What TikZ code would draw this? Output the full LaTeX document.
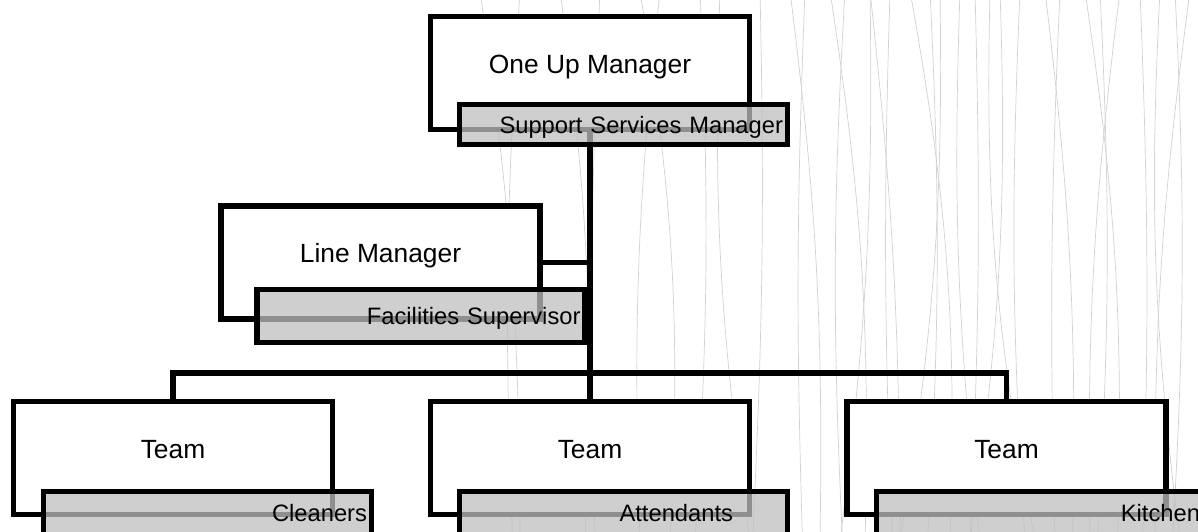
\documentclass[tikz,border=0pt]{standalone}
\usepackage{fontspec}
\setmainfont{Liberation Sans}
\pgfdeclarelayer{threads}
\pgfdeclarelayer{background}
\pgfsetlayers{threads,background,main}
\tikzset{
    post/.style={draw,line width=3.2pt,fill=white,minimum width=6.38cm,minimum height=2.26cm,},
    title/.style={font=\fontsize{15}{18}\selectfont,text height=10.7pt,text depth=0pt,inner sep=0pt,},
    tag/.style={draw,line width=3.2pt,fill=black!25,fill opacity=0.75,text opacity=1,
        inner xsep=0.09cm,inner ysep=0pt,text width=6.38cm,align=right,
        font=\fontsize{13.5}{16}\selectfont,text height=9.7pt,text depth=0pt,},
    link/.style={line width=3.2pt,},
    thread/.style={black!18,line width=0.4pt,},
}

\begin{document}
\begin{tikzpicture}
                \useasboundingbox (0,0) rectangle (23.96,10.62);

                % faint threads behind the chart
                \begin{pgfonlayer}{threads}
                \foreach \a/\b/\c in {9.6/10.4/4, 10.4/10.25/-3, 11.2/11.7/5, 12/11.9/-2, 12.8/13.4/6,
                        13.2/12.8/-4, 14/13.9/3, 14.4/15/-5, 15.2/15.05/2, 15.8/16.4/4, 16.1/16.05/-2,
                        16.6/17.3/5, 16.9/16.85/-3, 17.4/16.8/4, 17.8/17.85/-2, 18.2/19/6, 18.6/18.55/3,
                        19.2/19.6/-4, 19.5/19.4/2, 20/19.4/5, 20.4/20.5/-3, 20.9/21.45/4, 21.2/21.1/-2,
                        21.7/22.35/5, 22/21.95/3, 22.4/21.8/-4, 22.8/22.85/2, 23.2/23.6/-5, 23.5/23.45/3,
                        23.8/23.1/-4, 18.8/18/5, 19.8/20.7/-6, 17.4/18/3}
                    \draw[thread] (\a,10.8) to[bend left=\c] (\b,-0.2);
                \end{pgfonlayer}

                \node[post] (oneup) at (11.8, 9.16) {};
                \node[title] at ([yshift=0.18cm]oneup.center) {One Up Manager};
                \node[tag,minimum height=0.8cm] (ssm) at (12.47, 8.13) {Support Services Manager};

                \node[post] (linemgr) at (7.61, 5.37) {};
                \node[title] at ([yshift=0.18cm]linemgr.center) {Line Manager};
                \node[tag,minimum height=1.06cm] (facil) at (8.42, 4.30) {Facilities Supervisor};

                \node[post] (cleanteam) at (3.46, 1.46) {};
                \node[title] at ([yshift=0.18cm]cleanteam.center) {Team};
                \node[tag,minimum height=0.86cm] (cleaners) at (4.15, 0.36) {Cleaners};

                \node[post] (attteam) at (11.8, 1.46) {};
                \node[title] at ([yshift=0.18cm]attteam.center) {Team};
                \node[tag,minimum height=0.86cm,inner xsep=1.09cm,text width=4.38cm] (attend) at (12.47, 0.36) {Attendants};

                \node[post] (kitchteam) at (20.13, 1.46) {};
                \node[title] at ([yshift=0.18cm]kitchteam.center) {Team};
                \node[tag,minimum height=0.86cm] (kitchen) at (20.81, 0.36) {Kitchen};

                \coordinate (bar) at (11.8, 3.16);

                \begin{pgfonlayer}{background}
                \draw[link] (oneup.south) to (attteam.north);
                \draw[link] (linemgr.east) to (linemgr.east -| bar);
                \draw[link] (cleanteam.north) |- (kitchteam.north |- bar) -- (kitchteam.north);
                \end{pgfonlayer}
            \end{tikzpicture}
\end{document}
